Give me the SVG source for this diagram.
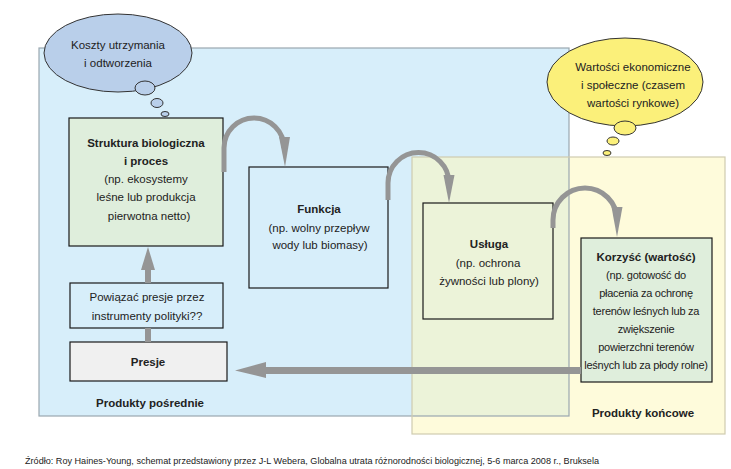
<svg xmlns="http://www.w3.org/2000/svg" width="731" height="469" viewBox="0 0 731 469">
<style>
text{font-family:"Liberation Sans",Arial,sans-serif;font-size:11.5px;fill:#222;text-anchor:middle}
.b{font-weight:bold}
.k{font-size:11px;letter-spacing:-0.25px}
.box{stroke:#1a1a1a;stroke-width:1.2}
.arc{fill:none;stroke:#959595;stroke-width:5}
.head{fill:#959595}
.cloud{stroke:#333;stroke-width:1}
</style>
<rect width="731" height="469" fill="#ffffff"/>
<g id="panels">
<rect x="39" y="48" width="530" height="368" fill="#d7eefa"/>
<rect x="412" y="157" width="313" height="277" fill="#fefbdb"/>
<rect x="412" y="157" width="157" height="259" fill="#ecf3d9"/>
<rect x="39" y="48" width="530" height="368" fill="none" stroke="#9aa7b0" stroke-width="1.2"/>
<rect x="412" y="157" width="313" height="277" fill="none" stroke="#cfccb0" stroke-width="1.2"/>
<text x="150" y="407" class="b">Produkty pośrednie</text>
<text x="643" y="417" class="b">Produkty końcowe</text>
</g>
<g id="cloud-koszty">
<ellipse cx="118" cy="53" rx="74" ry="39" fill="#b9cfea" class="cloud"/>
<ellipse cx="145" cy="88" rx="10" ry="7" fill="#b9cfea" class="cloud"/>
<ellipse cx="157" cy="103" rx="6" ry="4.5" fill="#b9cfea" class="cloud"/>
<ellipse cx="165" cy="114" rx="4" ry="2.5" fill="#b9cfea" class="cloud"/>
<text x="118" y="49">Koszty utrzymania</text>
<text x="118" y="67">i odtworzenia</text>
</g>
<g id="cloud-wartosci">
<ellipse cx="625" cy="82" rx="78" ry="44" fill="#fbf07a" class="cloud"/>
<ellipse cx="625" cy="128" rx="11" ry="7" fill="#fbf07a" class="cloud"/>
<ellipse cx="613" cy="141" rx="6" ry="4" fill="#fbf07a" class="cloud"/>
<ellipse cx="607" cy="153" rx="4" ry="2.5" fill="#fbf07a" class="cloud"/>
<text x="633" y="71">Wartości ekonomiczne</text>
<text x="633" y="89">i społeczne (czasem</text>
<text x="633" y="107">wartości rynkowe)</text>
</g>
<g id="struktura">
<rect x="69" y="118" width="154" height="128" fill="#dfeedc" class="box"/>
<text x="146" y="147" class="b">Struktura biologiczna</text>
<text x="146" y="165" class="b">i proces</text>
<text x="146" y="183">(np. ekosystemy</text>
<text x="146" y="201">leśne lub produkcja</text>
<text x="149" y="220">pierwotna netto)</text>
</g>
<g id="funkcja">
<rect x="249" y="167" width="139" height="121" fill="#d7eefa" class="box"/>
<text x="319" y="213" class="b">Funkcja</text>
<text x="319" y="232">(np. wolny przepływ</text>
<text x="320" y="249">wody lub biomasy)</text>
</g>
<g id="usluga">
<rect x="423" y="203" width="130" height="116" fill="#ecf3d9" class="box"/>
<text x="489" y="248" class="b">Usługa</text>
<text x="488" y="267">(np. ochrona</text>
<text x="489" y="285">żywności lub plony)</text>
</g>
<g id="korzysc">
<rect x="581" y="238" width="131" height="144" fill="#dfeedc" class="box"/>
<text x="646" y="261" class="b">Korzyść (wartość)</text>
<text x="646" y="279" class="k">(np. gotowość do</text>
<text x="646" y="297" class="k">płacenia za ochronę</text>
<text x="646" y="315" class="k">terenów leśnych lub za</text>
<text x="646" y="333" class="k">zwiększenie</text>
<text x="646" y="351" class="k">powierzchni terenów</text>
<text x="646" y="369" class="k">leśnych lub za płody rolne)</text>
</g>
<g id="powiazac">
<rect x="70" y="283" width="153" height="45" fill="#d7eefa" class="box"/>
<text x="147" y="301">Powiązać presje przez</text>
<text x="147" y="320">instrumenty polityki??</text>
</g>
<g id="presje">
<rect x="70" y="342" width="157" height="39" fill="#f0f0f0" class="box"/>
<text x="148" y="366" class="b">Presje</text>
</g>
<g id="connectors">
<path class="arc" d="M224 172 L224 148 A30 30 0 0 1 284 148 L284 140"/>
<polygon class="head" points="279,137 290,137 285,167"/>
<path class="arc" d="M388 200 L388 183 A30.5 30.5 0 0 1 449 183 L449 178"/>
<polygon class="head" points="443.5,175 454.5,175 449,203"/>
<path class="arc" d="M553 228 L553 220 A32 32 0 0 1 617 220 L617 210"/>
<polygon class="head" points="611.5,207 622.5,207 617,237"/>
<rect x="145" y="328" width="6" height="14" fill="#959595"/>
<rect x="145" y="266" width="6" height="17" fill="#959595"/>
<polygon class="head" points="141,270 155,270 148,247"/>
<rect x="262" y="367" width="319" height="7" fill="#959595"/>
<polygon class="head" points="266,362 266,378 235,370.5"/>
</g>
<text x="312" y="464" style="font-size:9.5px" textLength="574" lengthAdjust="spacingAndGlyphs">Źródło: Roy Haines-Young, schemat przedstawiony przez J-L Webera, Globalna utrata różnorodności biologicznej, 5-6 marca 2008 r., Bruksela</text>
</svg>
